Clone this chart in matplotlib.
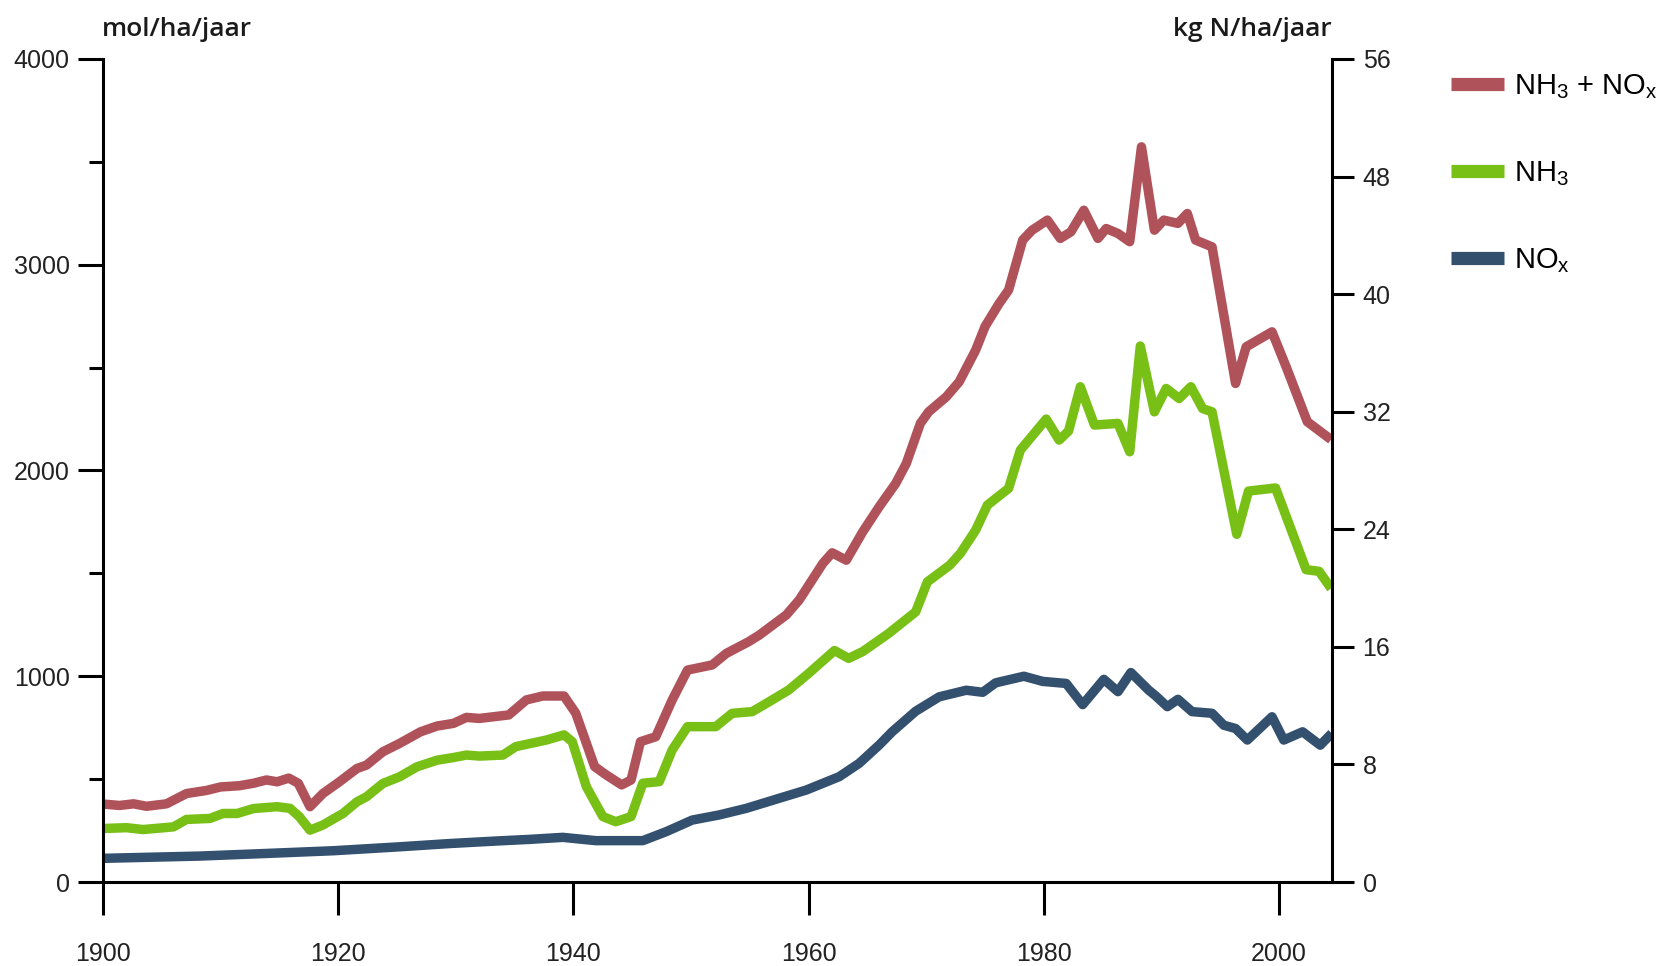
import matplotlib
matplotlib.use('Agg')
import matplotlib.pyplot as plt
from matplotlib.lines import Line2D
from matplotlib.ticker import MultipleLocator

plt.rcParams['font.family'] = ['Liberation Sans', 'DejaVu Sans']
plt.rcParams['mathtext.fontset'] = 'custom'
plt.rcParams['mathtext.rm'] = 'Liberation Sans'
plt.rcParams['mathtext.it'] = 'Liberation Sans'

# NH3 + NOx (mol/ha/jaar)
tot_years = [1900.0, 1901.4, 1902.6, 1903.7, 1905.4, 1907.1, 1908.8, 1910.0, 1911.6, 1912.8,
             1913.9, 1914.8, 1915.8, 1916.6, 1917.6, 1918.7, 1920.1, 1921.6, 1922.4, 1923.8,
             1925.2, 1927.0, 1928.4, 1929.8, 1930.9, 1932.0, 1934.5, 1936.0, 1937.4, 1939.2,
             1940.2, 1941.8, 1942.8, 1944.1, 1944.9, 1945.7, 1947.0, 1948.4, 1949.7, 1951.8,
             1953.0, 1954.9, 1955.8, 1958.1, 1959.2, 1961.2, 1962.0, 1963.2, 1964.6, 1966.0,
             1967.4, 1968.3, 1969.5, 1970.2, 1971.7, 1972.8, 1974.2, 1975.0, 1976.2, 1977.0,
             1978.2, 1979.0, 1980.3, 1981.4, 1982.3, 1983.4, 1984.6, 1985.3, 1986.3, 1987.3,
             1988.3, 1989.4, 1990.2, 1991.4, 1992.2, 1992.9, 1994.3, 1996.3, 1997.2, 1999.4,
             2000.6, 2002.4, 2004.1]
tot = [379, 372, 380, 368, 380, 430, 445, 462, 468, 480,
       496, 487, 505, 480, 366, 430, 487, 552, 568, 633,
       673, 730, 758, 771, 800, 795, 812, 885, 904, 904,
       820, 561, 520, 472, 496, 682, 706, 885, 1030, 1055,
       1111, 1168, 1200, 1298, 1371, 1548, 1600, 1564, 1702, 1824,
       1937, 2034, 2229, 2285, 2358, 2431, 2585, 2700, 2812, 2877,
       3120, 3168, 3217, 3128, 3160, 3265, 3128, 3176, 3152, 3112,
       3573, 3168, 3217, 3201, 3249, 3120, 3087, 2423, 2601, 2674,
       2504, 2237, 2164]

# NH3
nh3_years = [1900.0, 1902.0, 1903.4, 1906.0, 1907.1, 1909.1, 1910.2, 1911.4, 1912.8, 1914.8,
             1915.9, 1916.7, 1917.6, 1918.7, 1920.4, 1921.6, 1922.4, 1923.8, 1925.2, 1926.7,
             1928.4, 1929.8, 1930.9, 1932.0, 1934.0, 1935.1, 1937.7, 1939.2, 1939.9, 1941.1,
             1942.5, 1943.6, 1944.9, 1945.9, 1947.3, 1948.4, 1949.7, 1952.1, 1953.5, 1955.2,
             1956.4, 1958.3, 1960.0, 1962.2, 1963.4, 1964.6, 1966.0, 1966.8, 1969.1, 1970.1,
             1972.0, 1972.9, 1974.2, 1975.2, 1977.0, 1978.0, 1980.2, 1981.3, 1982.1, 1983.1,
             1984.3, 1986.3, 1987.3, 1988.2, 1989.4, 1990.4, 1991.5, 1992.5, 1993.5, 1994.3,
             1996.4, 1997.4, 1999.7, 2002.3, 2003.4, 2004.2]
nh3 = [260, 264, 255, 268, 304, 309, 333, 333, 357, 366,
       358, 317, 252, 277, 333, 390, 414, 479, 511, 560,
       592, 605, 617, 612, 617, 658, 690, 715, 682, 463,
       318, 293, 318, 480, 488, 642, 755, 755, 820, 828,
       868, 933, 1014, 1125, 1087, 1120, 1176, 1208, 1313, 1459,
       1540, 1597, 1710, 1832, 1913, 2099, 2250, 2148, 2192, 2407,
       2221, 2229, 2091, 2605, 2285, 2399, 2350, 2407, 2301, 2285,
       1690, 1900, 1915, 1518, 1510, 1445]

# NOx
nox_years = [1900.0, 1908.2, 1914.0, 1919.6, 1925.2, 1929.5, 1933.7, 1936.2, 1939.1, 1941.9,
             1945.9, 1947.9, 1950.1, 1952.4, 1954.7, 1957.5, 1959.8, 1962.6, 1964.3, 1966.0,
             1967.1, 1969.1, 1971.1, 1973.4, 1974.8, 1975.9, 1978.3, 1979.9, 1981.9, 1983.3,
             1985.1, 1986.3, 1987.4, 1988.9, 1989.5, 1990.5, 1991.4, 1992.6, 1994.3, 1995.3,
             1996.3, 1997.3, 1999.4, 2000.4, 2002.0, 2003.5, 2004.2]
nox = [115, 126, 139, 152, 171, 187, 200, 207, 217, 201,
       201, 245, 301, 326, 358, 407, 447, 512, 577, 666,
       730, 830, 900, 932, 922, 968, 1000, 975, 965, 862,
       985, 925, 1018, 933, 905, 852, 888, 828, 820, 762,
       746, 690, 803, 690, 730, 665, 706]

labels = ['NH$_3$ + NO$_x$', 'NH$_3$', 'NO$_x$']
colors = ['#B0525A', '#78C016', '#33506F']

W, H = 1662, 966
fig = plt.figure(figsize=(W / 100, H / 100), dpi=100)
ax = fig.add_axes([103 / W, (H - 882) / H, (1332 - 103) / W, (882 - 59) / H])

ax.plot(tot_years, tot, color=colors[0], lw=6.8)
ax.plot(nh3_years, nh3, color=colors[1], lw=6.8)
ax.plot(nox_years, nox, color=colors[2], lw=6.8)

ax.set_xlim(1900, 2004.5)
ax.set_ylim(0, 4000)
ax.set_xticks([1900, 1920, 1940, 1960, 1980, 2000])
ax.yaxis.set_major_locator(MultipleLocator(1000))
ax.yaxis.set_minor_locator(MultipleLocator(500))
for s in ['top', 'right']:
    ax.spines[s].set_visible(False)
for s in ['left', 'bottom']:
    ax.spines[s].set_linewidth(2.2)
ax.tick_params(axis='x', direction='out', length=24, width=2.2, pad=19,
               labelsize=18, labelcolor='#222222')
ax.tick_params(axis='y', which='major', direction='out', length=18, width=2.2,
               pad=6, labelsize=18, labelcolor='#222222')
ax.tick_params(axis='y', which='minor', direction='out', length=10, width=2.2)

ax2 = ax.twinx()
ax2.set_ylim(0, 56)
ax2.set_yticks(range(0, 57, 8))
for s in ['top', 'left', 'bottom']:
    ax2.spines[s].set_visible(False)
ax2.spines['right'].set_linewidth(2.2)
ax2.tick_params(axis='y', direction='out', length=16, width=2.2, pad=6,
                labelsize=18, labelcolor='#222222')

fig.text(102 / W, 1 - 36 / H, 'mol/ha/jaar', fontsize=19, family='Open Sans',
         fontweight='semibold', color='#1a1a1a', ha='left', va='baseline')
fig.text(1332 / W, 1 - 36 / H, 'kg N/ha/jaar', fontsize=19, family='Open Sans',
         fontweight='semibold', color='#1a1a1a', ha='right', va='baseline')

handles = [Line2D([], [], color=c, lw=9.5, solid_capstyle='butt') for c in colors]
ax2.legend(handles, labels, loc='upper left', bbox_to_anchor=(1451 / W, 1 - 72 / H),
           bbox_transform=fig.transFigure, frameon=False, fontsize=21,
           handlelength=1.8, handletextpad=0.36, labelspacing=2.0,
           borderpad=0, borderaxespad=0)

fig.savefig('out.png', dpi=100)
